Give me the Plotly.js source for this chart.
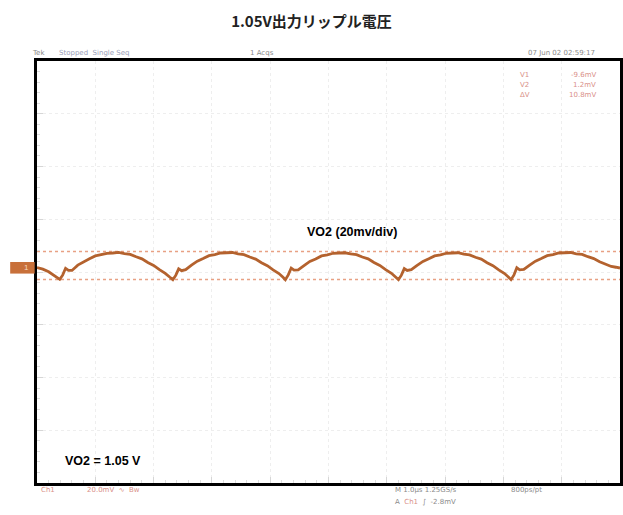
<!DOCTYPE html>
<html><head><meta charset="utf-8">
<script src="https://cdn.plot.ly/plotly-3.0.1.min.js"></script>
<style>html,body{margin:0;padding:0;background:#fff}#c{width:623px;height:515px}</style>
</head><body><div id="c"></div>
<script>
// time in divisions (1 µs/div), ripple in mV (20 mV/div)
const timeDiv = [0,0.1,0.2,0.3,0.39,
 0.44,0.49,0.54,0.6,0.7,0.8,0.9,1.0,1.1,1.2,1.3,1.4,1.5,1.6,1.7,1.8,1.9,2.0,2.1,2.2,2.28,2.33,
 2.38,2.43,2.48,2.55,2.65,2.75,2.85,2.95,3.05,3.15,3.25,3.35,3.45,3.55,3.65,3.75,3.85,3.95,4.05,4.15,4.22,4.26,
 4.31,4.36,4.41,4.48,4.58,4.68,4.78,4.88,4.98,5.08,5.18,5.28,5.38,5.48,5.58,5.68,5.78,5.88,5.98,6.08,6.15,6.20,
 6.25,6.30,6.35,6.42,6.52,6.62,6.72,6.82,6.92,7.02,7.12,7.22,7.32,7.42,7.52,7.62,7.72,7.82,7.92,8.02,8.09,8.13,
 8.18,8.23,8.28,8.35,8.45,8.55,8.65,8.75,8.85,8.95,9.05,9.15,9.25,9.35,9.45,9.55,9.65,9.75,9.85,9.93,10.0];
const rippleMv = [1.7,1.1,0.1,-1.4,-2.8,
 -1.2,1.4,0.6,0.6,2.6,3.9,5.0,6.1,6.6,7.1,7.2,7.4,7.0,6.7,5.8,5.0,3.6,2.5,0.9,-0.5,-2.0,-2.9,
 -1.3,1.2,0.5,0.9,2.6,4.1,5.1,6.2,6.6,7.2,7.3,7.4,6.9,6.6,5.7,4.9,3.5,2.4,0.8,-0.6,-2.0,-2.9,
 -1.1,1.5,0.7,0.8,2.4,4.0,4.9,6.1,6.5,7.1,7.2,7.3,6.9,6.6,5.7,5.0,3.6,2.5,0.9,-0.5,-1.9,-2.9,
 -1.2,1.3,0.6,0.9,2.5,4.0,5.0,6.1,6.5,7.1,7.2,7.3,6.8,6.5,5.6,4.9,3.5,2.4,0.8,-0.6,-2.0,-2.9,
 -1.2,1.6,0.8,1.0,2.6,4.1,5.1,6.2,6.6,7.2,7.3,7.4,6.9,6.7,5.8,5.1,3.9,3.1,2.1,1.8,1.5];
const cursorMv = [7.75, -2.8];

const gridCol = 'rgba(205,205,205,0.35)';
const cursorCol = '#e8a184';
const data = [
  {x:[0,10], y:[cursorMv[0],cursorMv[0]], mode:'lines', line:{color:cursorCol,width:1.5,dash:'3px,3px'}, hoverinfo:'skip', showlegend:false},
  {x:[0,10], y:[cursorMv[1],cursorMv[1]], mode:'lines', line:{color:cursorCol,width:1.5,dash:'3px,3px'}, hoverinfo:'skip', showlegend:false},
  {x:timeDiv, y:rippleMv, mode:'lines', line:{color:'#b4622e',width:2.8,shape:'linear'}, showlegend:false}
];
const ax = {
  showticklabels:false, zeroline:false, showgrid:true, gridcolor:gridCol, griddash:'dot', gridwidth:1,
  showline:true, linecolor:'#000', linewidth:3, mirror:true,
  ticks:'inside', ticklen:6, tickcolor:'#d6d6d6', tickwidth:1,
  minor:{ticks:'inside', ticklen:3, tickcolor:'#dedede', showgrid:false}
};
const grey = '#8a8a8a', pink = '#d98f88';
const layout = {
  width:623, height:515,
  margin:{l:37, r:3, t:61, b:32},
  paper_bgcolor:'#fff', plot_bgcolor:'#fff',
  title:{text:'<b>1.05V出力リップル電圧</b>', x:0.5, xanchor:'center', y:0.958, yanchor:'middle',
         font:{family:'Noto Sans CJK JP, Noto Sans, sans-serif', size:15, color:'#222'}},
  xaxis:Object.assign({}, ax, {range:[0,10], dtick:1, tick0:0, minor:Object.assign({}, ax.minor, {dtick:0.2})}),
  yaxis:Object.assign({}, ax, {range:[-80,80], dtick:20, tick0:0, minor:Object.assign({}, ax.minor, {dtick:4})}),
  shapes:[
    {type:'rect', xref:'paper', yref:'y', x0:-0.046, x1:-0.004, y0:-0.6, y1:3.8, fillcolor:'#c8703a', line:{width:0}}
  ],
  annotations:[
    {text:'1', xref:'paper', yref:'y', x:-0.025, y:1.6, showarrow:false, font:{family:'Liberation Sans', size:8, color:'#f6d7c2'}},
    {text:'<b>VO2 (20mv/div)</b>', xref:'x', yref:'y', x:5.4, y:15, showarrow:false, font:{family:'Liberation Sans, Arial', size:12.5, color:'#000'}},
    {text:'<b>VO2 = 1.05 V</b>', xref:'x', yref:'y', x:0.45, y:-71.5, xanchor:'left', showarrow:false, font:{family:'Liberation Sans, Arial', size:12.5, color:'#000'}},
    {text:'Tek', xref:'paper', yref:'paper', x:-0.012, y:1.034, xanchor:'left', showarrow:false, font:{family:'DejaVu Sans', size:7, color:grey}},
    {text:'Stopped  Single Seq', xref:'paper', yref:'paper', x:0.035, y:1.034, xanchor:'left', showarrow:false, font:{family:'DejaVu Sans', size:7, color:'#9aa0b8'}},
    {text:'1 Acqs', xref:'paper', yref:'paper', x:0.362, y:1.034, xanchor:'left', showarrow:false, font:{family:'DejaVu Sans', size:7, color:grey}},
    {text:'07 Jun 02 02:59:17', xref:'paper', yref:'paper', x:0.96, y:1.034, xanchor:'right', showarrow:false, font:{family:'DejaVu Sans', size:7, color:grey}},
    {text:'V1', xref:'paper', yref:'paper', x:0.825, y:0.982, xanchor:'left', showarrow:false, font:{family:'DejaVu Sans', size:7, color:pink}},
    {text:'-9.6mV', xref:'paper', yref:'paper', x:0.962, y:0.982, xanchor:'right', showarrow:false, font:{family:'DejaVu Sans', size:7, color:pink}},
    {text:'V2', xref:'paper', yref:'paper', x:0.825, y:0.958, xanchor:'left', showarrow:false, font:{family:'DejaVu Sans', size:7, color:pink}},
    {text:'1.2mV', xref:'paper', yref:'paper', x:0.962, y:0.958, xanchor:'right', showarrow:false, font:{family:'DejaVu Sans', size:7, color:pink}},
    {text:'ΔV', xref:'paper', yref:'paper', x:0.825, y:0.934, xanchor:'left', showarrow:false, font:{family:'DejaVu Sans', size:7, color:pink}},
    {text:'10.8mV', xref:'paper', yref:'paper', x:0.962, y:0.934, xanchor:'right', showarrow:false, font:{family:'DejaVu Sans', size:7, color:pink}},
    {text:'Ch1', xref:'paper', yref:'paper', x:0.004, y:-0.03, xanchor:'left', showarrow:false, font:{family:'DejaVu Sans', size:7, color:pink}},
    {text:'20.0mV  ∿  Bw', xref:'paper', yref:'paper', x:0.083, y:-0.03, xanchor:'left', showarrow:false, font:{family:'DejaVu Sans', size:7, color:pink}},
    {text:'M 1.0µs 1.25GS/s', xref:'paper', yref:'paper', x:0.61, y:-0.03, xanchor:'left', showarrow:false, font:{family:'DejaVu Sans', size:7, color:grey}},
    {text:'800ps/pt', xref:'paper', yref:'paper', x:0.81, y:-0.03, xanchor:'left', showarrow:false, font:{family:'DejaVu Sans', size:7, color:grey}},
    {text:'A  <span style="color:#d98f88">Ch1</span>  ∫  -2.8mV', xref:'paper', yref:'paper', x:0.61, y:-0.06, xanchor:'left', showarrow:false, font:{family:'DejaVu Sans', size:7, color:grey}}
  ]
};
Plotly.newPlot('c', data, layout, {staticPlot:true, displayModeBar:false});
</script>
</body></html>
